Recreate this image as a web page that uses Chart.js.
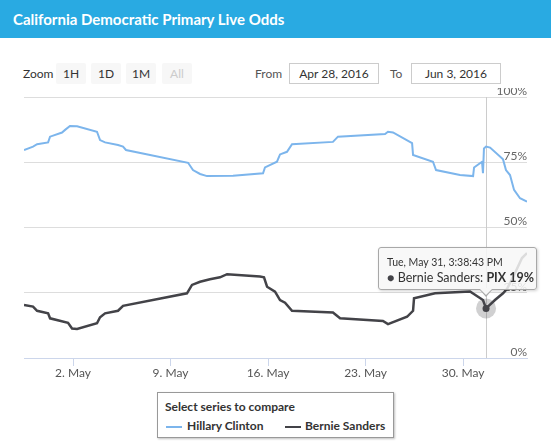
<!DOCTYPE html>
<html>
<head>
<meta charset="utf-8">
<script src="https://cdn.jsdelivr.net/npm/chart.js@4"></script>
<style>
html,body{margin:0;padding:0;background:#fff;}
body{width:551px;height:443px;position:relative;overflow:hidden;font-family:Lato,"Open Sans",sans-serif;color:#333;}
#hdr{position:absolute;left:0;top:0;width:551px;height:38px;background:#29aae2;}
#hdr span{position:absolute;left:13px;top:10px;color:#fff;font-weight:bold;font-size:15px;line-height:18px;}
.lbl{position:absolute;top:66px;font-size:12px;line-height:15px;}
.btn{position:absolute;top:63px;width:30px;height:21px;background:#f7f7f7;border-radius:2px;font-size:12px;line-height:21px;text-align:center;color:#333;}
.btn.dis{color:#ccc;}
.inp{position:absolute;top:63px;width:88px;height:19px;border:1px solid #cccccc;font-size:12px;line-height:19px;text-align:center;color:#333;}
#wrap{position:absolute;left:0;top:88px;width:551px;height:300px;}
#legend{position:absolute;left:157px;top:392px;width:235px;height:44px;border:1px solid #999;box-shadow:1px 1px 2px rgba(0,0,0,0.25);background:#fff;}
#legend .t{position:absolute;left:7px;top:6px;font-size:12px;font-weight:bold;line-height:15px;}
#legend .it{position:absolute;top:25px;font-size:12px;font-weight:bold;line-height:15px;}
#legend .ln{position:absolute;top:33px;width:16px;height:2px;}
#tip{position:absolute;width:157px;height:41px;background:rgba(247,247,247,0.85);border:1px solid #a8a8a8;border-radius:3px;box-shadow:1px 1px 3px rgba(0,0,0,0.18);z-index:5;}
#tip .l1{position:absolute;left:8px;top:8px;font-size:10.5px;line-height:12px;color:#333;}
#tip .l2{position:absolute;left:8px;top:23px;font-size:12.5px;line-height:14px;color:#333;white-space:nowrap;}
#tip .c1,#tip .c2{position:absolute;width:0;height:0;border-left:7px solid transparent;border-right:7px solid transparent;}
#tip .c1{border-top:8px solid #a8a8a8;top:41px;}
#tip .c2{border-top:7px solid rgba(247,247,247,1);top:40px;}
</style>
</head>
<body>
<div id="hdr"><span>California Democratic Primary Live Odds</span></div>
<div class="lbl" style="left:23px;">Zoom</div>
<div class="btn" style="left:56px;">1H</div>
<div class="btn" style="left:91px;">1D</div>
<div class="btn" style="left:126px;">1M</div>
<div class="btn dis" style="left:162px;">All</div>
<div class="lbl" style="left:255px;color:#555;">From</div>
<div class="inp" style="left:289px;">Apr 28, 2016</div>
<div class="lbl" style="left:390px;color:#555;">To</div>
<div class="inp" style="left:411px;">Jun 3, 2016</div>
<div id="wrap"><canvas id="c"></canvas></div>
<div id="legend">
  <div class="t">Select series to compare</div>
  <div class="ln" style="left:8px;background:#7cb5ec;"></div>
  <div class="it" style="left:29px;">Hillary Clinton</div>
  <div class="ln" style="left:127px;background:#434348;"></div>
  <div class="it" style="left:147px;">Bernie Sanders</div>
</div>
<div id="tip">
  <div class="l1">Tue, May 31, 3:38:43 PM</div>
  <div class="l2"><span style="color:#434348;">&#9679;</span> Bernie Sanders: <b>PIX 19%</b></div>
  <div class="c1"></div><div class="c2"></div>
</div>
<script>
// x values are days since May 1, 2016 00:00
const clintonDays = [-2.52,-1.87,-1.58,-0.79,-0.65,0.21,0.43,0.78,1.29,2.72,2.94,3.30,4.23,4.59,4.80,9.26,9.61,10.12,10.62,12.49,14.64,14.78,15.64,15.86,16.36,16.72,19.66,20.02,23.40,23.61,23.97,25.34,25.41,26.84,27.06,28.78,29.72,29.79,30.36,30.43,30.50,30.65,30.94,31.87,32.08,32.37,32.66,33.09,33.59];
const clintonOdds = [79.7,81.0,81.9,82.6,84.8,86.4,87.4,88.9,88.8,86.7,83.5,82.6,81.6,81.0,79.7,74.8,72.0,70.5,69.7,69.8,70.8,73.0,75.2,78.0,79.0,81.9,82.8,84.8,85.8,86.7,86.4,82.3,77.8,75.2,72.0,70.1,69.7,73.0,75.2,70.8,80.3,81.0,80.6,76.1,72.0,70.1,64.4,61.2,59.9];
const sandersDays = [-2.52,-1.87,-1.58,-0.79,-0.65,0.64,0.93,1.29,2.72,2.94,3.30,4.23,4.59,9.18,9.54,10.12,10.83,11.55,12.06,14.42,14.71,14.93,15.50,15.86,16.22,16.72,19.66,20.17,23.25,23.61,24.98,25.41,25.48,26.99,29.50,30.43,30.65,31.29,31.87,32.16,32.73,33.23,33.59];
const sandersOdds = [20.3,19.7,18.1,17.1,15.2,13.5,11.3,11.1,13.3,15.6,17.1,18.1,20.0,24.8,28.0,29.2,30.2,30.9,32.1,31.2,30.9,27.3,25.4,22.2,21.2,18.1,17.4,15.2,14.2,13.0,15.8,18.1,22.9,24.8,25.5,22.2,19.0,22.2,24.8,26.5,32.6,38.3,40.2];
const xTickDays = [1,8,15,22,29];
const xTickLabels = ['2. May','9. May','16. May','23. May','30. May'];
const yTickValues = [0,25,50,75,100];
const rangeStart = -2.52, rangeEnd = 33.59;
const hoverDay = 30.65;

const hoverIndex = sandersDays.indexOf(hoverDay);

const markPlugin = {
  id: 'mark',
  beforeDatasetsDraw(chart) {
    const {ctx, chartArea, scales} = chart;
    const px = Math.round(scales.x.getPixelForValue(hoverDay)) + 0.5;
    ctx.save();
    ctx.strokeStyle = '#cccccc';
    ctx.lineWidth = 1;
    ctx.beginPath();
    ctx.moveTo(px, chartArea.top);
    ctx.lineTo(px, chartArea.bottom);
    ctx.stroke();
    const pt = chart.getDatasetMeta(1).data[hoverIndex];
    ctx.fillStyle = 'rgba(67,67,72,0.25)';
    ctx.beginPath();
    ctx.arc(pt.x, pt.y, 10, 0, Math.PI * 2);
    ctx.fill();
    ctx.restore();
  },
  afterDatasetsDraw(chart) {
    const {ctx} = chart;
    const pt = chart.getDatasetMeta(1).data[hoverIndex];
    ctx.save();
    ctx.fillStyle = '#434348';
    ctx.beginPath();
    ctx.arc(pt.x, pt.y, 3.5, 0, Math.PI * 2);
    ctx.fill();
    ctx.restore();
  }
};

const chart = new Chart(document.getElementById('c'), {
  type: 'line',
  data: {
    datasets: [
      {label: 'Hillary Clinton', data: clintonDays.map((d, i) => ({x: d, y: clintonOdds[i]})), borderColor: '#7cb5ec', borderWidth: 2, pointRadius: 0, tension: 0, fill: false},
      {label: 'Bernie Sanders', data: sandersDays.map((d, i) => ({x: d, y: sandersOdds[i]})), borderColor: '#434348', borderWidth: 2.5, pointRadius: 0, tension: 0, fill: false}
    ]
  },
  options: {
    responsive: true,
    maintainAspectRatio: false,
    animation: false,
    events: [],
    layout: {padding: {top: 9, left: 24, right: 24, bottom: 0}},
    plugins: {legend: {display: false}, tooltip: {enabled: false}},
    scales: {
      x: {
        type: 'linear',
        min: rangeStart,
        max: rangeEnd,
        afterBuildTicks: s => { s.ticks = xTickDays.map(v => ({value: v})); },
        afterFit: s => { s.height = 30; },
        ticks: {
          callback: v => xTickLabels[xTickDays.indexOf(v)],
          color: '#555',
          font: {family: 'Lato', size: 12},
          padding: 0,
          maxRotation: 0,
          autoSkip: false
        },
        grid: {drawOnChartArea: false, drawTicks: true, tickLength: 8, color: '#ccd6eb'},
        border: {display: true, color: '#ccd6eb'}
      },
      y: {
        position: 'right',
        min: 0,
        max: 100,
        afterBuildTicks: s => { s.ticks = yTickValues.map(v => ({value: v})); },
        afterFit: s => { s.width = 0; },
        ticks: {
          mirror: true,
          padding: 0,
          labelOffset: -6,
          callback: v => v + '%',
          color: '#666',
          font: {family: 'Lato', size: 12}
        },
        grid: {color: '#dddddd', drawTicks: false},
        border: {display: false}
      }
    }
  },
  plugins: [markPlugin]
});

const pt = chart.getDatasetMeta(1).data[hoverIndex];
const tip = document.getElementById('tip');
const wrapTop = 88;
const tipLeft = pt.x - 108, tipTop = pt.y + wrapTop - 61;
tip.style.left = tipLeft + 'px';
tip.style.top = tipTop + 'px';
const cx = pt.x - tipLeft - 8;
tip.querySelector('.c1').style.left = cx + 'px';
tip.querySelector('.c2').style.left = cx + 'px';
</script>
</body>
</html>
